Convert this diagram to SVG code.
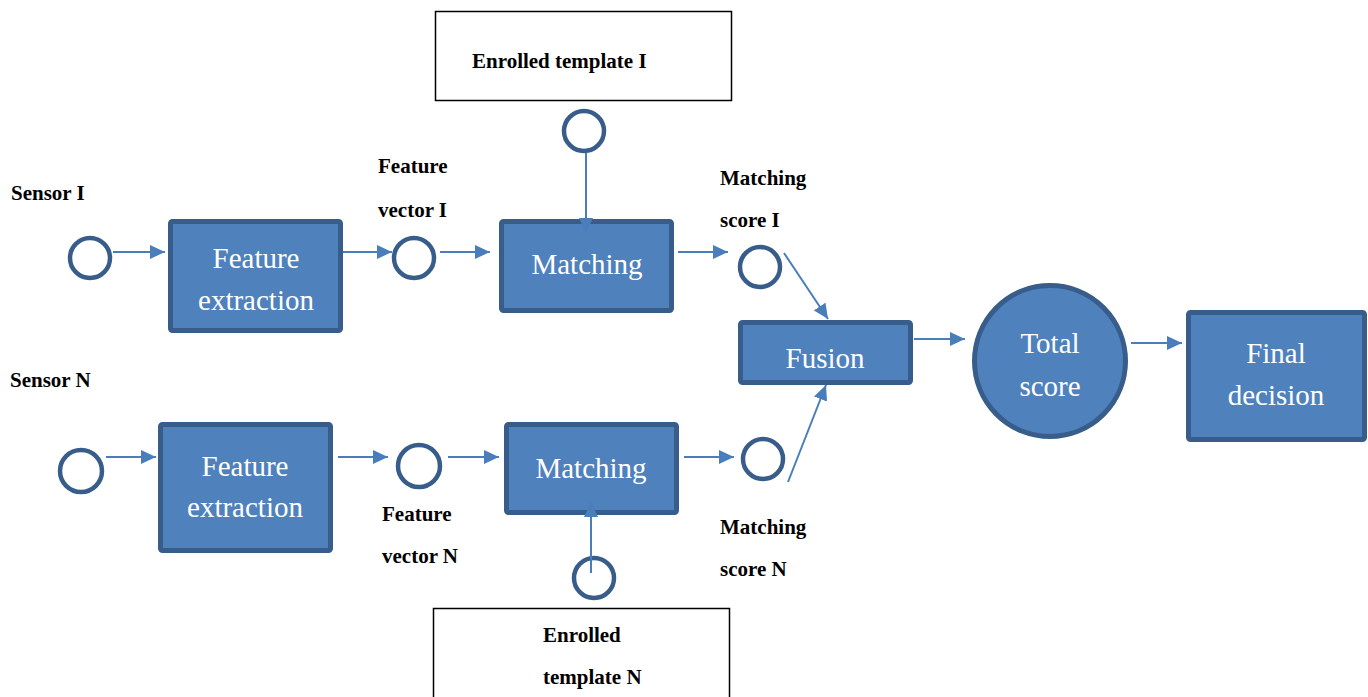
<svg xmlns="http://www.w3.org/2000/svg" width="1368" height="697" viewBox="0 0 1368 697">
  <style>
    .blk { fill: #4F81BD; stroke: #385D8A; stroke-width: 5; }
    .port { fill: #FFFFFF; stroke: #385D8A; stroke-width: 4.5; }
    .tpl { fill: #FFFFFF; stroke: #000000; stroke-width: 1.5; }
    .in { font-family: "Liberation Serif", "Times New Roman", serif; font-size: 29px; fill: #FFFFFF; text-anchor: middle; }
    .lbl { font-family: "Liberation Serif", "Times New Roman", serif; font-size: 21px; font-weight: bold; fill: #000000; }
    .link { stroke: #4A7EBB; stroke-width: 2; fill: none; marker-end: url(#arrow); }
  </style>
  <defs>
    <marker id="arrow" markerUnits="userSpaceOnUse" markerWidth="16" markerHeight="14" refX="15" refY="7" orient="auto">
      <path d="M0,0 L15,7 L0,14 z" fill="#4A7EBB"/>
    </marker>
  </defs>
  <rect width="1368" height="697" fill="#FFFFFF"/>

  <!-- Path for sensor I -->
  <g id="sensor-i">
    <text class="lbl" x="11" y="200">Sensor I</text>
    <circle class="port" cx="90" cy="258" r="20"/>
  </g>
  <g id="feature-extraction-i">
    <rect class="blk" x="170.5" y="221.5" width="170" height="109" rx="2"/>
    <text class="in" x="256" y="268">Feature</text>
    <text class="in" x="256" y="310">extraction</text>
  </g>
  <g id="feature-vector-i">
    <text class="lbl" x="378" y="173">Feature</text>
    <text class="lbl" x="378" y="217">vector I</text>
    <circle class="port" cx="414" cy="258" r="20"/>
  </g>
  <g id="template-i">
    <rect class="tpl" x="435.5" y="11.5" width="296" height="89"/>
    <text class="lbl" x="472" y="68">Enrolled template I</text>
  </g>
  <g id="template-port-i">
    <circle class="port" cx="584" cy="131" r="20"/>
  </g>
  <g id="matching-i">
    <rect class="blk" x="501.5" y="221.5" width="170" height="89" rx="2"/>
    <text class="in" x="587" y="274">Matching</text>
  </g>
  <g id="score-i">
    <text class="lbl" x="720" y="185">Matching</text>
    <text class="lbl" x="720" y="227">score I</text>
    <circle class="port" cx="760" cy="267" r="20"/>
  </g>

  <!-- Path for sensor N -->
  <g id="sensor-n">
    <text class="lbl" x="10" y="387">Sensor N</text>
    <circle class="port" cx="81" cy="471" r="21"/>
  </g>
  <g id="feature-extraction-n">
    <rect class="blk" x="160.5" y="424.5" width="170" height="126" rx="2"/>
    <text class="in" x="245" y="476">Feature</text>
    <text class="in" x="245" y="517">extraction</text>
  </g>
  <g id="feature-vector-n">
    <circle class="port" cx="419" cy="466" r="21"/>
    <text class="lbl" x="382" y="521">Feature</text>
    <text class="lbl" x="382" y="563">vector N</text>
  </g>
  <g id="matching-n">
    <rect class="blk" x="506.5" y="424.5" width="170" height="88" rx="2"/>
    <text class="in" x="591" y="478">Matching</text>
  </g>
  <g id="template-port-n">
    <circle class="port" cx="594" cy="578" r="20"/>
  </g>
  <g id="template-n">
    <rect class="tpl" x="433.5" y="608.5" width="296" height="100"/>
    <text class="lbl" x="543" y="642">Enrolled</text>
    <text class="lbl" x="543" y="684">template N</text>
  </g>
  <g id="score-n">
    <circle class="port" cx="763" cy="459" r="20"/>
    <text class="lbl" x="720" y="534">Matching</text>
    <text class="lbl" x="720" y="576">score N</text>
  </g>

  <!-- Fusion and decision -->
  <g id="fusion">
    <rect class="blk" x="740.5" y="322.5" width="170" height="60" rx="2"/>
    <text class="in" x="825" y="368">Fusion</text>
  </g>
  <g id="total-score">
    <circle class="blk" cx="1050" cy="361" r="75.5"/>
    <text class="in" x="1050" y="353">Total</text>
    <text class="in" x="1050" y="396">score</text>
  </g>
  <g id="final-decision">
    <rect class="blk" x="1188.5" y="312.5" width="176" height="127" rx="2"/>
    <text class="in" x="1276" y="363">Final</text>
    <text class="in" x="1276" y="405">decision</text>
  </g>

  <!-- Connectors -->
  <g id="connectors">
    <line class="link" x1="113" y1="252" x2="165" y2="252"/>
    <line class="link" x1="343" y1="252" x2="392" y2="252"/>
    <line class="link" x1="440" y1="252" x2="490" y2="252"/>
    <line class="link" x1="586" y1="153" x2="586" y2="233"/>
    <line class="link" x1="678" y1="252" x2="728" y2="252"/>
    <line class="link" x1="784" y1="253" x2="828" y2="319"/>
    <line class="link" x1="914" y1="339" x2="965" y2="339"/>
    <line class="link" x1="1131" y1="343" x2="1182" y2="343"/>
    <line class="link" x1="106" y1="457" x2="156" y2="457"/>
    <line class="link" x1="338" y1="457" x2="388" y2="457"/>
    <line class="link" x1="448" y1="457" x2="499" y2="457"/>
    <line class="link" x1="591" y1="573" x2="591" y2="502"/>
    <line class="link" x1="684" y1="457" x2="734" y2="457"/>
    <line class="link" x1="788" y1="482" x2="826" y2="385"/>
  </g>
</svg>
